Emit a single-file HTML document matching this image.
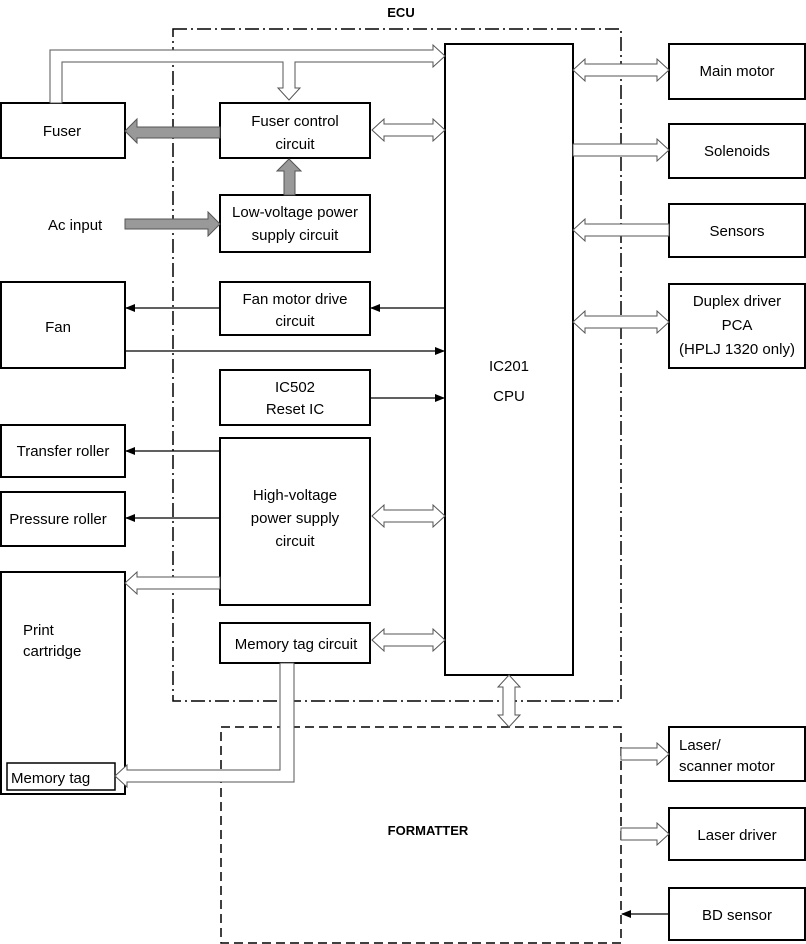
<!DOCTYPE html>
<html><head><meta charset="utf-8"><style>
html,body{margin:0;padding:0;background:#fff}
svg{display:block}
text{font-family:"Liberation Sans",Arial,sans-serif;font-size:15px;fill:#000}
</style></head><body>
<svg width="806" height="944" viewBox="0 0 806 944" xmlns="http://www.w3.org/2000/svg">
<defs>
<marker id="ah" markerWidth="10" markerHeight="8" refX="9" refY="4" orient="auto" markerUnits="userSpaceOnUse">
<path d="M0,0 L10,4 L0,8 Z" fill="#000"/></marker>
</defs>
<g fill="none" stroke="#000" stroke-width="1.5">
<rect x="173" y="29" width="448" height="672" stroke-dasharray="14,4,2,4"/>
<rect x="221" y="727" width="400" height="216" stroke-dasharray="9,5"/>
</g>
<g fill="#fff" stroke="#000" stroke-width="2">
<rect x="445" y="44" width="128" height="631"/>
<rect x="1" y="103" width="124" height="55"/>
<rect x="220" y="103" width="150" height="55"/>
<rect x="220" y="195" width="150" height="57"/>
<rect x="220" y="282" width="150" height="53"/>
<rect x="220" y="370" width="150" height="55"/>
<rect x="220" y="438" width="150" height="167"/>
<rect x="220" y="623" width="150" height="40"/>
<rect x="1" y="282" width="124" height="86"/>
<rect x="1" y="425" width="124" height="52"/>
<rect x="1" y="492" width="124" height="54"/>
<rect x="1" y="572" width="124" height="222"/>
<rect x="7" y="763" width="108" height="27" stroke-width="1.5"/>
<rect x="669" y="44" width="136" height="55"/>
<rect x="669" y="124" width="136" height="54"/>
<rect x="669" y="204" width="136" height="53"/>
<rect x="669" y="284" width="136" height="84"/>
<rect x="669" y="727" width="136" height="54"/>
<rect x="669" y="808" width="136" height="52"/>
<rect x="669" y="888" width="136" height="52"/>
</g>
<g fill="#fff" stroke="#555" stroke-width="1">
<polygon points="50,103 50,50 433,50 433,45 445,56 433,67 433,62 295,62 295,88 300,88 289,100 278,88 283,88 283,62 62,62 62,103"/>
<polygon points="372,130 384,119 384,124 433,124 433,119 445,130 433,141 433,136 384,136 384,141"/>
<polygon points="573,70 585,59 585,64 657,64 657,59 669,70 657,81 657,76 585,76 585,81"/>
<polygon points="573,144 657,144 657,139 669,150 657,161 657,156 573,156"/>
<polygon points="669,224 585,224 585,219 573,230 585,241 585,236 669,236"/>
<polygon points="573,322 585,311 585,316 657,316 657,311 669,322 657,333 657,328 585,328 585,333"/>
<polygon points="372,516 384,505 384,510 433,510 433,505 445,516 433,527 433,522 384,522 384,527"/>
<polygon points="372,640 384,629 384,634 433,634 433,629 445,640 433,651 433,646 384,646 384,651"/>
<polygon points="509,675 520,687 515,687 515,715 520,715 509,727 498,715 503,715 503,687 498,687"/>
<polygon points="621,748 657,748 657,743 669,754 657,765 657,760 621,760"/>
<polygon points="621,828 657,828 657,823 669,834 657,845 657,840 621,840"/>
<polygon points="220,577 137,577 137,572 125,583 137,594 137,589 220,589"/>
<polygon points="280,663 280,770 127,770 127,765 115,776 127,787 127,782 294,782 294,663"/>
</g>
<g fill="#999" stroke="#555" stroke-width="1">
<polygon points="220,127 137,127 137,119 125,131 137,143 137,138 220,138"/>
<polygon points="284,195 284,171 277,171 289,159 301,171 295,171 295,195"/>
<polygon points="125,219 208,219 208,212 220,224 208,236 208,229 125,229"/>
</g>
<g stroke="#000" stroke-width="1.2" marker-end="url(#ah)">
<line x1="220" y1="308" x2="126" y2="308"/>
<line x1="445" y1="308" x2="371" y2="308"/>
<line x1="125" y1="351" x2="444" y2="351"/>
<line x1="370" y1="398" x2="444" y2="398"/>
<line x1="220" y1="451" x2="126" y2="451"/>
<line x1="220" y1="518" x2="126" y2="518"/>
<line x1="669" y1="914" x2="622" y2="914"/>
</g>
<g text-anchor="middle">
<text x="401" y="17" style="font-weight:bold;font-size:13px">ECU</text>
<text x="62" y="136">Fuser</text>
<text x="295" y="126">Fuser control</text>
<text x="295" y="149">circuit</text>
<text x="295" y="217">Low-voltage power</text>
<text x="295" y="240">supply circuit</text>
<text x="295" y="304">Fan motor drive</text>
<text x="295" y="326">circuit</text>
<text x="295" y="392">IC502</text>
<text x="295" y="414">Reset IC</text>
<text x="295" y="500">High-voltage</text>
<text x="295" y="523">power supply</text>
<text x="295" y="546">circuit</text>
<text x="296" y="649">Memory tag circuit</text>
<text x="58" y="332">Fan</text>
<text x="63" y="456">Transfer roller</text>
<text x="58" y="524">Pressure roller</text>
<text x="509" y="371">IC201</text>
<text x="509" y="401">CPU</text>
<text x="737" y="76">Main motor</text>
<text x="737" y="156">Solenoids</text>
<text x="737" y="236">Sensors</text>
<text x="737" y="306">Duplex driver</text>
<text x="737" y="330">PCA</text>
<text x="737" y="354">(HPLJ 1320 only)</text>
<text x="737" y="840">Laser driver</text>
<text x="737" y="920">BD sensor</text>
<text x="428" y="835" style="font-weight:bold;font-size:13px">FORMATTER</text>
</g>
<text x="48" y="230">Ac  input</text>
<text x="23" y="635">Print</text>
<text x="23" y="656">cartridge</text>
<text x="11" y="783">Memory tag</text>
<text x="679" y="750">Laser/</text>
<text x="679" y="771">scanner motor</text>
</svg>
</body></html>
